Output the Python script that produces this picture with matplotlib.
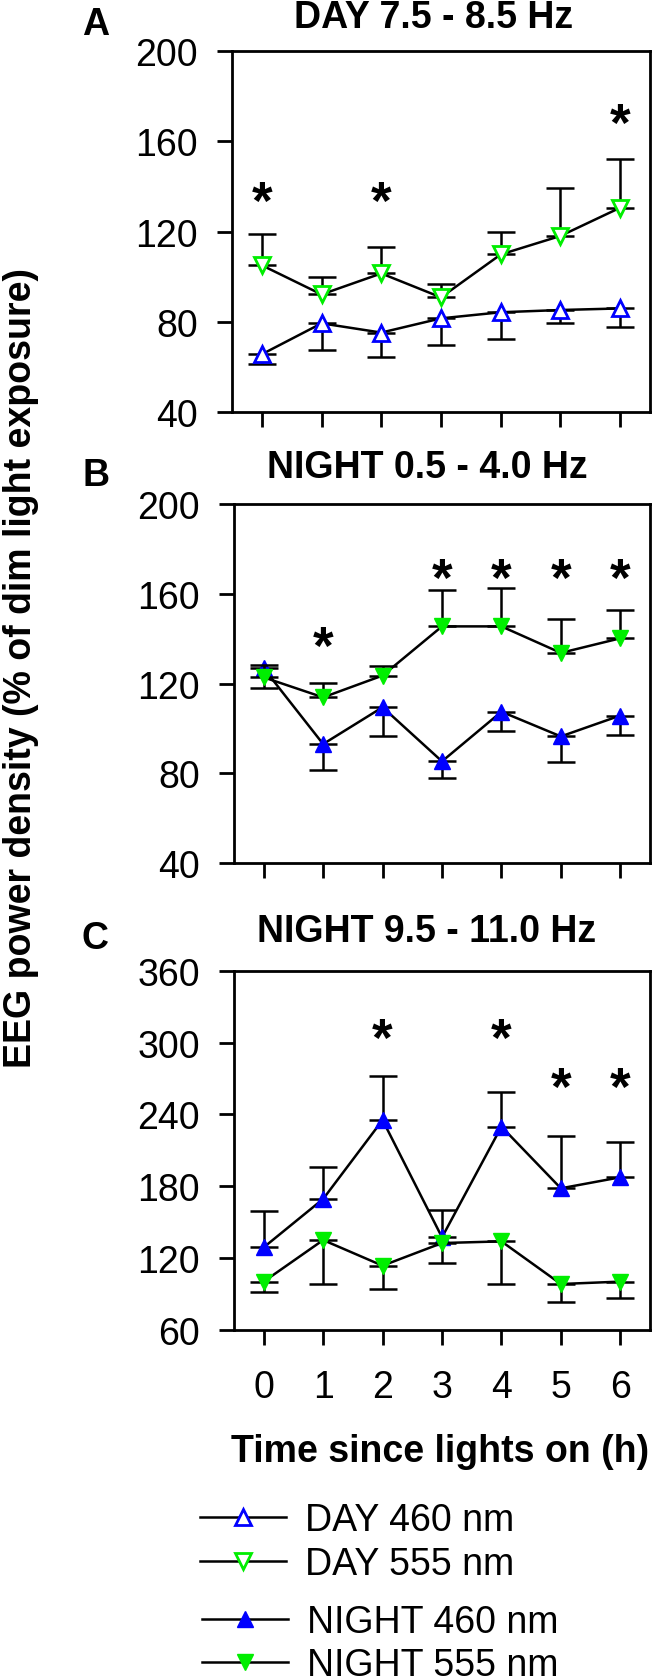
import matplotlib
matplotlib.use("Agg")
import matplotlib.pyplot as plt
from matplotlib.transforms import offset_copy

plt.rcParams['font.family'] = ['Liberation Sans', 'DejaVu Sans']

hours = [0, 1, 2, 3, 4, 5, 6]
xtick_labels = ['0', '1', '2', '3', '4', '5', '6']

# Panel A: DAY 7.5 - 8.5 Hz
day460_mean = [65.7, 79.4, 75.3, 81.6, 84.3, 85.3, 86.0]
day460_sem = [4.4, 11.8, 11.0, 11.7, 11.8, 5.9, 8.4]
day555_mean = [105.1, 92.2, 101.5, 90.9, 109.9, 118.1, 130.6]
day555_sem = [14.0, 7.5, 11.7, 5.7, 10.1, 21.2, 21.6]
a_star_x = [0, 2, 6]
a_star_y = [139, 139, 173.5]

# Panel B: NIGHT 0.5 - 4.0 Hz
nb460_mean = [126.8, 93.1, 109.5, 85.4, 107.5, 96.5, 105.8]
nb460_sem = [8.7, 11.5, 12.7, 7.3, 8.4, 11.5, 8.7]
nb555_mean = [122.8, 113.9, 123.6, 145.5, 145.5, 133.7, 140.2]
nb555_sem = [5.7, 6.4, 4.1, 16.1, 17.1, 15.1, 12.6]
b_star_x = [1, 3, 4, 5, 6]
b_star_y = [142, 172.5, 172.5, 172.5, 172.5]

# Panel C: NIGHT 9.5 - 11.0 Hz
nc460_mean = [129.0, 169.4, 235.3, 137.4, 229.8, 178.3, 187.5]
nc460_sem = [30.6, 26.4, 37.0, 23.1, 28.6, 43.9, 29.2]
nc555_mean = [100.4, 135.1, 113.7, 132.6, 134.0, 98.4, 100.4]
nc555_sem = [8.9, 36.7, 19.5, 16.6, 35.6, 14.8, 14.0]
c_star_x = [2, 4, 5, 6]
c_star_y = [314, 314, 273, 273]

titles = ['DAY 7.5 - 8.5 Hz', 'NIGHT 0.5 - 4.0 Hz', 'NIGHT 9.5 - 11.0 Hz']
letters = ['A', 'B', 'C']
ylims = [(40, 200), (40, 200), (60, 360)]
yticks = [[40, 80, 120, 160, 200], [40, 80, 120, 160, 200], [60, 120, 180, 240, 300, 360]]
legend_labels = ['DAY 460 nm', 'DAY 555 nm', 'NIGHT 460 nm', 'NIGHT 555 nm']

BLUE = '#0000FF'
GREEN = '#00EE00'
W, H = 653, 1681
FS = 27

fig = plt.figure(figsize=(W / 100, H / 100), dpi=100)

def add_axes_px(left, top, right, bottom):
    return fig.add_axes([left / W, 1 - bottom / H, (right - left) / W, (bottom - top) / H])

axA = add_axes_px(232, 52, 650, 413.3)
axB = add_axes_px(234, 505, 650, 864.3)
axC = add_axes_px(234, 971.7, 650, 1331)
axes = [axA, axB, axC]

LW = 1.8
MS = 11.5
CAP = 10.4

def series(ax, mean, sem, marker, color, filled, up, z):
    if up:
        yerr = [[0] * len(sem), sem]
    else:
        yerr = [sem, [0] * len(sem)]
    ax.errorbar(hours, mean, yerr=yerr, fmt='none', ecolor='black',
                elinewidth=LW, capsize=CAP, capthick=LW, zorder=z)
    line, = ax.plot(hours, mean, color='black', lw=LW, marker=marker, ms=MS,
                    mfc=color if filled else 'white', mec=color,
                    mew=2.0 if not filled else 1.0, zorder=z + 1)
    return line

h_d460 = series(axA, day460_mean, day460_sem, '^', BLUE, False, False, 2)
h_d555 = series(axA, day555_mean, day555_sem, 'v', GREEN, False, True, 4)
h_n460 = series(axB, nb460_mean, nb460_sem, '^', BLUE, True, False, 2)
series(axB, nb555_mean, nb555_sem, 'v', GREEN, True, True, 4)
series(axC, nc460_mean, nc460_sem, '^', BLUE, True, True, 2)
h_n555 = series(axC, nc555_mean, nc555_sem, 'v', GREEN, True, False, 4)

star_sets = [(a_star_x, a_star_y), (b_star_x, b_star_y), (c_star_x, c_star_y)]

for i, ax in enumerate(axes):
    ax.set_xlim(-0.5, 6.5)
    ax.set_ylim(*ylims[i])
    ax.set_yticks(yticks[i])
    ax.set_xticks(hours)
    if i == 2:
        ax.set_xticklabels(xtick_labels)
    else:
        ax.set_xticklabels([])
    for s in ax.spines.values():
        s.set_linewidth(2.0)
        s.set_color('black')
    ax.tick_params(axis='y', direction='out', length=11, width=2.0, pad=13.5,
                   labelsize=FS)
    ax.tick_params(axis='x', direction='out', length=11, width=2.0, pad=17,
                   labelsize=FS)
    tr = offset_copy(ax.transData, fig=fig, x=0, y=-29, units='dots')
    sx, sy = star_sets[i]
    for x, y in zip(sx, sy):
        ax.text(x, y, '*', transform=tr, ha='center', va='baseline',
                fontsize=38, fontweight='bold', color='black')

title_pos = [(434, 28.3), (427, 478.3), (427, 941.7)]
letter_pos = [(96, 35), (96.5, 486), (95, 949)]
for i in range(3):
    tx, ty = title_pos[i]
    fig.text(tx / W, 1 - ty / H, titles[i], ha='center', va='baseline',
             fontsize=FS, fontweight='bold')
    lx, ly = letter_pos[i]
    fig.text(lx / W, 1 - ly / H, letters[i], ha='center', va='baseline',
             fontsize=FS, fontweight='bold')

fig.text(440 / W, 1 - 1462 / H, 'Time since lights on (h)', ha='center',
         va='baseline', fontsize=FS, fontweight='bold')
fig.text(21 / W, 1 - 668.5 / H, 'EEG power density (% of dim light exposure)',
         ha='center', va='center', rotation=90, fontsize=FS, fontweight='bold')

leg_kw = dict(frameon=False, borderpad=0, borderaxespad=0, handlelength=2.3,
              handletextpad=0.5, labelspacing=0.2, fontsize=FS, loc='center left')
fig.legend([h_d460, h_d555], legend_labels[:2],
           bbox_to_anchor=(200 / W, 1 - 1543 / H), **leg_kw)
fig.legend([h_n460, h_n555], legend_labels[2:],
           bbox_to_anchor=(202 / W, 1 - 1644.5 / H), **leg_kw)

fig.savefig('out.png', dpi=100)
